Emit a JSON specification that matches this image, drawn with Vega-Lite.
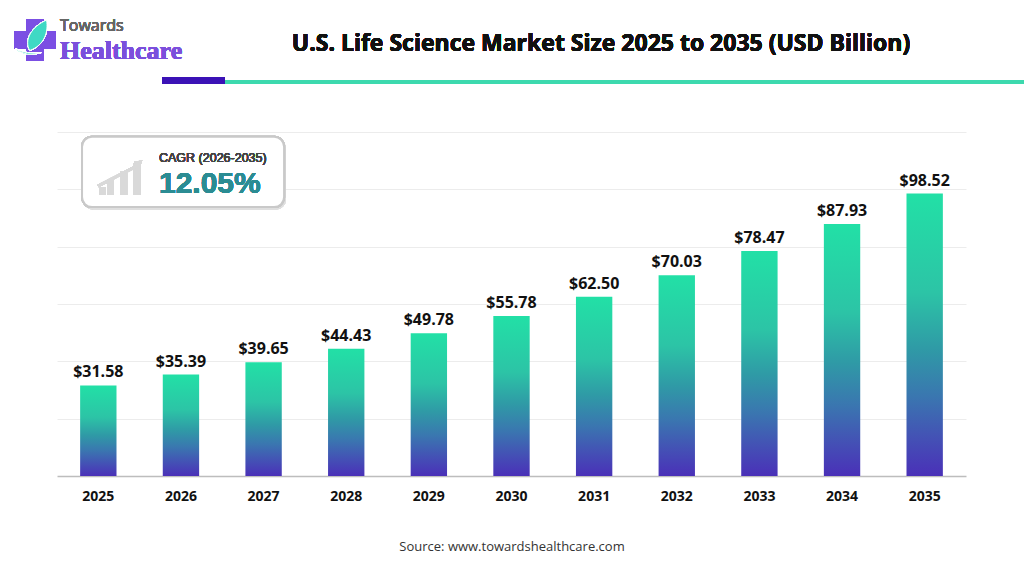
{
  "$schema": "https://vega.github.io/schema/vega-lite/v6.json",
  "description": "U.S. Life Science Market Size 2025 to 2035 (USD Billion)",
  "width": 909,
  "height": 344,
  "autosize": "none",
  "padding": {"left": 57, "top": 132, "right": 58, "bottom": 100},
  "background": "white",
  "config": {"view": {"stroke": null}},
  "data": {
    "values": [
      {"year": "2025", "value": 31.58},
      {"year": "2026", "value": 35.39},
      {"year": "2027", "value": 39.65},
      {"year": "2028", "value": 44.43},
      {"year": "2029", "value": 49.78},
      {"year": "2030", "value": 55.78},
      {"year": "2031", "value": 62.50},
      {"year": "2032", "value": 70.03},
      {"year": "2033", "value": 78.47},
      {"year": "2034", "value": 87.93},
      {"year": "2035", "value": 98.52}
    ]
  },
  "resolve": {"scale": {"x": "independent", "y": "independent"}},
  "layer": [
    {
      "encoding": {
        "x": {
          "field": "year", "type": "ordinal",
          "scale": {"paddingInner": 0.56, "paddingOuter": 0.28},
          "axis": {
            "labelAngle": 0, "ticks": false,
            "domainColor": "#bdbdbd", "domainWidth": 1.5,
            "labelFont": "Open Sans", "labelFontWeight": "bold", "labelFontSize": 14,
            "labelColor": "#111", "labelPadding": 13,
            "title": "Source: www.towardshealthcare.com",
            "titleFont": "Open Sans", "titleFontWeight": "normal", "titleFontSize": 13,
            "titleColor": "#333", "titlePadding": 37
          }
        },
        "y": {
          "field": "value", "type": "quantitative",
          "scale": {"domain": [0, 120], "nice": false},
          "axis": {
            "values": [20, 40, 60, 80, 100, 120], "grid": true, "gridColor": "#ececec",
            "labels": false, "ticks": false, "domain": false, "title": null
          }
        }
      },
      "layer": [
        {
          "mark": {
            "type": "bar",
            "color": {
              "gradient": "linear", "x1": 0, "y1": 0, "x2": 0, "y2": 1,
              "stops": [
                {"offset": 0, "color": "#22e0a6"},
                {"offset": 0.35, "color": "#2cc4a6"},
                {"offset": 0.55, "color": "#2f9aa6"},
                {"offset": 0.72, "color": "#3a76b0"},
                {"offset": 0.87, "color": "#4450b5"},
                {"offset": 1, "color": "#4a30b8"}
              ]
            }
          }
        },
        {
          "mark": {
            "type": "text", "baseline": "alphabetic", "dy": -8,
            "font": "Open Sans", "fontWeight": "bold", "fontSize": 16, "color": "#111"
          },
          "encoding": {"text": {"field": "value", "type": "quantitative", "format": "$.2f"}}
        }
      ]
    },
    {
      "mark": {"type": "rule", "color": "#3dd9ae", "strokeWidth": 4},
      "encoding": {
        "x": {"datum": 2.03, "type": "quantitative", "scale": {"domain": [0, 11], "nice": false, "zero": false}, "axis": null},
        "x2": {"datum": 11.7},
        "y": {"datum": 137.44, "type": "quantitative", "scale": {"domain": [0, 120], "nice": false, "zero": false}, "axis": null}
      }
    },
    {
      "mark": {"type": "rule", "color": "#3b12b6", "strokeWidth": 7},
      "encoding": {
        "x": {"datum": 1.271, "type": "quantitative", "scale": {"domain": [0, 11], "nice": false, "zero": false}, "axis": null},
        "x2": {"datum": 2.033},
        "y": {"datum": 137.96, "type": "quantitative", "scale": {"domain": [0, 120], "nice": false, "zero": false}, "axis": null}
      }
    },
    {
      "mark": {"type": "text", "align": "center", "baseline": "alphabetic", "font": "Open Sans", "fontWeight": "bold", "fontSize": 23, "color": "#111"},
      "encoding": {
        "text": {"value": "U.S. Life Science Market Size 2025 to 2035 (USD Billion)"},
        "x": {"datum": 6.583, "type": "quantitative", "scale": {"domain": [0, 11], "nice": false, "zero": false}, "axis": null},
        "y": {"datum": 148.2, "type": "quantitative", "scale": {"domain": [0, 120], "nice": false, "zero": false}, "axis": null}
      }
    },
    {
      "mark": {"type": "point", "shape": "cross", "size": 1760, "filled": true, "color": "#7b4fe3", "opacity": 1},
      "encoding": {
        "x": {"datum": -0.266, "type": "quantitative", "scale": {"domain": [0, 11], "nice": false, "zero": false}, "axis": null},
        "y": {"datum": 152.09, "type": "quantitative", "scale": {"domain": [0, 120], "nice": false, "zero": false}, "axis": null}
      }
    },
    {
      "mark": {
        "type": "point", "size": 1760, "filled": true, "color": "#3fd9c4", "opacity": 1,
        "stroke": "white", "strokeWidth": 1,
        "shape": "M -0.25 0.5 C -0.55 0.0 -0.15 -0.65 0.55 -0.95 C 0.65 -0.4 0.45 0.25 -0.25 0.5 Z M -0.95 0.4 Q -0.4 0.85 0.3 0.6 Q -0.4 0.7 -0.95 0.4 Z"
      },
      "encoding": {
        "x": {"datum": -0.266, "type": "quantitative", "scale": {"domain": [0, 11], "nice": false, "zero": false}, "axis": null},
        "y": {"datum": 152.09, "type": "quantitative", "scale": {"domain": [0, 120], "nice": false, "zero": false}, "axis": null}
      }
    },
    {
      "mark": {"type": "text", "align": "left", "baseline": "alphabetic", "font": "Open Sans", "fontWeight": 400, "fontSize": 16, "color": "#666"},
      "encoding": {
        "text": {"value": "Towards"},
        "x": {"datum": 0.036, "type": "quantitative", "scale": {"domain": [0, 11], "nice": false, "zero": false}, "axis": null},
        "y": {"datum": 155.23, "type": "quantitative", "scale": {"domain": [0, 120], "nice": false, "zero": false}, "axis": null}
      }
    },
    {
      "mark": {"type": "text", "align": "left", "baseline": "alphabetic", "font": "Liberation Serif", "fontWeight": "bold", "fontSize": 26, "color": "#7b4fdc"},
      "encoding": {
        "text": {"value": "Healthcare"},
        "x": {"datum": 0.036, "type": "quantitative", "scale": {"domain": [0, 11], "nice": false, "zero": false}, "axis": null},
        "y": {"datum": 145.46, "type": "quantitative", "scale": {"domain": [0, 120], "nice": false, "zero": false}, "axis": null}
      }
    },
    {
      "mark": {"type": "rect", "cornerRadius": 10, "color": "#dedede", "opacity": 0.8},
      "encoding": {
        "x": {"datum": 0.315, "type": "quantitative", "scale": {"domain": [0, 11], "nice": false, "zero": false}, "axis": null},
        "x2": {"datum": 2.77},
        "y": {"datum": 93.0, "type": "quantitative", "scale": {"domain": [0, 120], "nice": false, "zero": false}, "axis": null},
        "y2": {"datum": 117.6}
      }
    },
    {
      "mark": {"type": "rect", "cornerRadius": 10, "fill": "white", "stroke": "#c9c9c9", "strokeWidth": 2},
      "encoding": {
        "x": {"datum": 0.303, "type": "quantitative", "scale": {"domain": [0, 11], "nice": false, "zero": false}, "axis": null},
        "x2": {"datum": 2.748},
        "y": {"datum": 93.8, "type": "quantitative", "scale": {"domain": [0, 120], "nice": false, "zero": false}, "axis": null},
        "y2": {"datum": 118.3}
      }
    },
    {
      "mark": {"type": "rect", "color": "#d9d9d9"},
      "encoding": {
        "x": {"datum": 0.512, "type": "quantitative", "scale": {"domain": [0, 11], "nice": false, "zero": false}, "axis": null},
        "x2": {"datum": 0.593},
        "y": {"datum": 98.02, "type": "quantitative", "scale": {"domain": [0, 120], "nice": false, "zero": false}, "axis": null},
        "y2": {"datum": 100.71}
      }
    },
    {
      "mark": {"type": "rect", "color": "#d9d9d9"},
      "encoding": {
        "x": {"datum": 0.609, "type": "quantitative", "scale": {"domain": [0, 11], "nice": false, "zero": false}, "axis": null},
        "x2": {"datum": 0.690},
        "y": {"datum": 98.02, "type": "quantitative", "scale": {"domain": [0, 120], "nice": false, "zero": false}, "axis": null},
        "y2": {"datum": 103.5}
      }
    },
    {
      "mark": {"type": "rect", "color": "#d9d9d9"},
      "encoding": {
        "x": {"datum": 0.762, "type": "quantitative", "scale": {"domain": [0, 11], "nice": false, "zero": false}, "axis": null},
        "x2": {"datum": 0.851},
        "y": {"datum": 98.02, "type": "quantitative", "scale": {"domain": [0, 120], "nice": false, "zero": false}, "axis": null},
        "y2": {"datum": 106.15}
      }
    },
    {
      "mark": {"type": "rect", "color": "#d9d9d9"},
      "encoding": {
        "x": {"datum": 0.923, "type": "quantitative", "scale": {"domain": [0, 11], "nice": false, "zero": false}, "axis": null},
        "x2": {"datum": 1.013},
        "y": {"datum": 98.02, "type": "quantitative", "scale": {"domain": [0, 120], "nice": false, "zero": false}, "axis": null},
        "y2": {"datum": 109.08}
      }
    },
    {
      "mark": {"type": "rule", "color": "#d9d9d9", "strokeWidth": 3},
      "encoding": {
        "x": {"datum": 0.496, "type": "quantitative", "scale": {"domain": [0, 11], "nice": false, "zero": false}, "axis": null},
        "x2": {"datum": 0.956},
        "y": {"datum": 101.16, "type": "quantitative", "scale": {"domain": [0, 120], "nice": false, "zero": false}, "axis": null},
        "y2": {"datum": 107.97}
      }
    },
    {
      "mark": {"type": "point", "shape": "triangle-right", "size": 70, "filled": true, "color": "#d9d9d9", "opacity": 1, "angle": -40},
      "encoding": {
        "x": {"datum": 1.0, "type": "quantitative", "scale": {"domain": [0, 11], "nice": false, "zero": false}, "axis": null},
        "y": {"datum": 109.3, "type": "quantitative", "scale": {"domain": [0, 120], "nice": false, "zero": false}, "axis": null}
      }
    },
    {
      "mark": {"type": "text", "align": "left", "baseline": "alphabetic", "font": "Liberation Sans", "fontWeight": 400, "fontSize": 12.5, "color": "#444"},
      "encoding": {
        "text": {"value": "CAGR (2026-2035)"},
        "x": {"datum": 1.234, "type": "quantitative", "scale": {"domain": [0, 11], "nice": false, "zero": false}, "axis": null},
        "y": {"datum": 109.5, "type": "quantitative", "scale": {"domain": [0, 120], "nice": false, "zero": false}, "axis": null}
      }
    },
    {
      "mark": {"type": "text", "align": "left", "baseline": "alphabetic", "font": "Liberation Sans", "fontWeight": "bold", "fontSize": 30, "color": "#2b8c93"},
      "encoding": {
        "text": {"value": "12.05%"},
        "x": {"datum": 1.234, "type": "quantitative", "scale": {"domain": [0, 11], "nice": false, "zero": false}, "axis": null},
        "y": {"datum": 98.7, "type": "quantitative", "scale": {"domain": [0, 120], "nice": false, "zero": false}, "axis": null}
      }
    }
  ]
}
